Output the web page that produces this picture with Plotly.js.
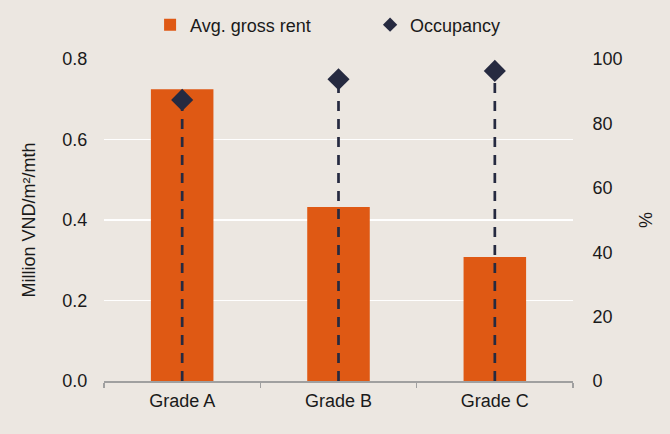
<!DOCTYPE html>
<html><head><meta charset="utf-8">
<script src="https://cdn.plot.ly/plotly-3.0.1.min.js"></script>
<style>html,body{margin:0;padding:0;background:#ECE7E1;}#chart{width:670px;height:434px;}</style>
</head><body><div id="chart"></div>
<script>
var categories = ["Grade A", "Grade B", "Grade C"];
var avgGrossRent = [0.725, 0.432, 0.308];
var occupancy = [87.3, 93.7, 96.3];
var leftTicks = [0, 0.2, 0.4, 0.6, 0.8];
var leftTickText = ["0.0", "0.2", "0.4", "0.6", "0.8"];
var rightTicks = [0, 20, 40, 60, 80, 100];

var stemX = [], stemY = [];
categories.forEach(function(c, i){ stemX.push(c, c, null); stemY.push(0, occupancy[i], null); });

var navy = "#262A40";
var traces = [
  {type:"bar", x:categories, y:avgGrossRent, name:"Avg. gross rent", marker:{color:"#DF5914"}, width:0.4, yaxis:"y"},
  {type:"scatter", mode:"lines", x:stemX, y:stemY, yaxis:"y2", showlegend:false, hoverinfo:"skip",
   line:{color:navy, width:2.7, dash:"10px,8px"}},
  {type:"scatter", mode:"markers", x:categories, y:occupancy, name:"Occupancy", yaxis:"y2", showlegend:false,
   marker:{symbol:"diamond", size:17, color:navy}},
  {type:"scatter", mode:"markers", x:[null], y:[null], name:"Occupancy", yaxis:"y2", showlegend:true,
   marker:{symbol:"diamond", size:11, color:navy}}
];

var font = {family:"Liberation Sans, Arial, sans-serif", size:18, color:"#1a1a1a"};
var layout = {
  width:670, height:434,
  paper_bgcolor:"#ECE7E1", plot_bgcolor:"#ECE7E1",
  font:font,
  margin:{l:104, r:97, t:59, b:53},
  showlegend:true,
  legend:{orientation:"h", xref:"container", x:0.224, xanchor:"left", y:0.985, yanchor:"top", yref:"container", font:{size:18},
          bgcolor:"rgba(0,0,0,0)", entrywidth:175, entrywidthmode:"pixels", itemwidth:30},
  bargap:0.6,
  xaxis:{type:"category", showgrid:false, showline:true, linecolor:"#A0A0A0", linewidth:1.5,
         ticks:"outside", tickson:"boundaries", ticklen:5, tickcolor:"#A0A0A0", tickwidth:1.5,
         tickfont:{size:18}, zeroline:false, ticklabelstandoff:3},
  yaxis:{range:[0,0.8], tickvals:leftTicks, ticktext:leftTickText, showgrid:true, gridcolor:"#FFFFFF", gridwidth:1.5,
         zeroline:false, showline:false, ticks:"outside", ticklen:12, tickcolor:"rgba(0,0,0,0)",
         title:{text:"Million VND/m²/mth", font:{size:18}, standoff:22}},
  yaxis2:{range:[0,100], tickvals:rightTicks, overlaying:"y", side:"right", showgrid:false, zeroline:false,
          showline:false, ticks:"outside", ticklen:15, tickcolor:"rgba(0,0,0,0)",
          title:{text:"%", font:{size:18}, standoff:17}}
};
Plotly.newPlot("chart", traces, layout, {displayModeBar:false, staticPlot:true});
</script></body></html>
